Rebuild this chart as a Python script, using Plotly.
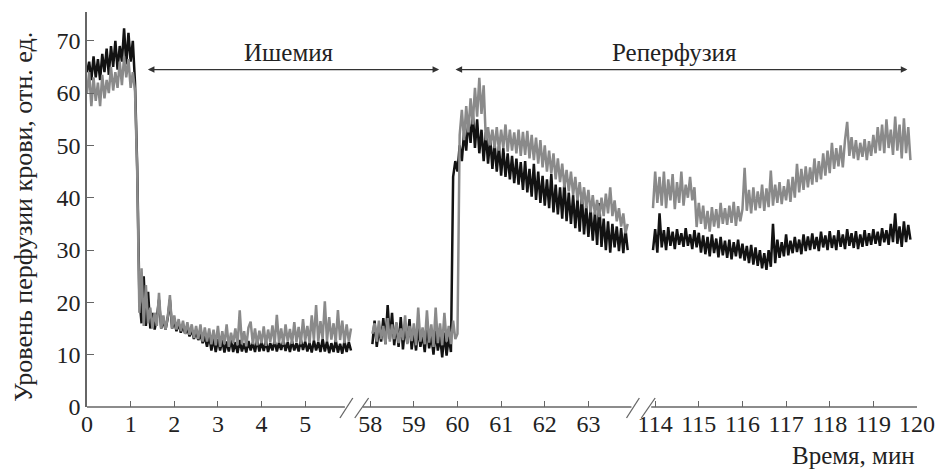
import numpy as np
import plotly.graph_objects as go

# ---------------- data ----------------
STEP = 0.05  # sampling step, min

# segment A: 0 ... 6.05 min
a_start = 0.0
black_a = [64, 66, 62.5, 67, 63, 66.5, 62.5, 67.5, 64, 68.5, 63.5, 69, 65, 70, 64.5, 69, 66, 72.4, 65.5, 71.5,
           66, 70, 62, 46, 21, 16, 25, 15.5, 22, 15, 18, 14.8, 17, 20.5, 15, 16.5, 14.8, 17, 20.5, 15,
           16.5, 14.5, 16, 14.2, 15.5, 14, 15, 13.5, 14.8, 13, 14.5, 12.8, 14, 12.2, 13.5, 11.5, 13.8, 10.8, 13.2, 10.5,
           13, 10.8, 12.8, 10.4, 12.5, 10.6, 13, 10.5, 12.4, 10.3, 12.8, 10.6, 12.2, 10.4, 12.6, 10.8, 12.3, 10.5, 12.9, 10.6,
           12.4, 10.7, 12.6, 10.5, 12.2, 10.8, 12.7, 10.6, 12.3, 10.9, 12.8, 10.7, 12.4, 10.5, 12.6, 10.8, 12.2, 10.6, 12.9, 10.9,
           12.5, 10.6, 12.3, 10.4, 12.7, 10.8, 12.4, 10.5, 13, 10.6, 12.5, 10.3, 12.2, 10.5, 12.8, 10.4, 12.1, 10.2, 12.6, 10.5,
           12.4, 10.8]
gray_a = [60, 64, 57.5, 63, 58.5, 62, 57.5, 63.5, 59, 62.5, 60, 65, 60.5, 64, 61, 66, 61.5, 67, 63, 66.5,
          61, 64, 60.5, 45, 18, 26.5, 15.5, 23.3, 16, 19, 15, 18, 15.5, 21.8, 15, 17.5, 14.8, 17.2, 21.4, 15,
          17.5, 14.8, 16.8, 14.5, 16.5, 14, 16.2, 13.8, 15.8, 13.2, 15.5, 13, 15.8, 12.5, 15.2, 12.5, 15, 12, 14.8, 11.8,
          15.5, 11.5, 14.5, 12, 15.8, 11.5, 14.2, 12.2, 15, 11.8, 18.5, 12, 14.5, 11.6, 15.2, 16.3, 12, 15, 11.8, 14.6,
          12.2, 15.4, 11.7, 14.8, 12.4, 15.6, 12, 17.6, 12.3, 15, 11.9, 15.8, 12.5, 14.9, 12.1, 16.2, 12.4, 15.3, 12, 16.8,
          12.6, 15.5, 12.2, 17.5, 12.8, 19.5, 12.5, 16.4, 13, 20.2, 12.6, 17.2, 12.9, 16, 12.4, 18.5, 12.8, 16.5, 12.2, 15.8,
          12.5, 15]

# segment B: 58.05 ... 63.90 min
b_start = 58.05
black_b = [12, 16.5, 11.5, 15, 12.5, 17, 12, 19.5, 13, 18, 11.8, 16, 11.5, 17.2, 11, 15.5, 12.2, 16.8, 11, 14.5,
           10.8, 15.2, 11.5, 14, 10.5, 15.8, 11.2, 13.8, 10, 14.6, 10.8, 13.5, 9.5, 14.2, 9.8, 13.5, 10.5, 44, 47, 45,
           50, 47, 52.5, 49, 55, 50.5, 56.4, 49.5, 55, 48.5, 53, 47, 52.5, 46.5, 51.5, 45.5, 50.5, 45, 49.8, 44.2,
           49.5, 44, 48.5, 43.5, 48, 42.8, 47.5, 42.5, 46.8, 41.5, 47, 41, 45.5, 40.2, 46.5, 39.6, 45, 39, 44.2, 38.5,
           43.5, 38, 44.5, 37.2, 42.5, 36.8, 42, 36, 43, 35.5, 41, 35, 40.5, 34.2, 39.8, 33.5, 40.5, 33, 38.5, 32.5,
           38, 31.8, 37.2, 31, 39, 30.6, 36, 30, 35.5, 29.5, 35, 30.5, 34.5, 29.8, 34.2, 29.4, 34, 30]
gray_b = [14, 16, 12.5, 16.5, 13, 15.5, 12, 17, 12.5, 15.8, 13, 16.2, 12.2, 15, 12.8, 17.5, 12, 15.5, 12.6, 16,
          11.8, 19, 12.5, 15.2, 12, 18.5, 12.3, 15.8, 11.5, 19, 12.2, 16, 11.8, 18, 12.5, 15.5, 12, 16.5, 13, 14,
          52, 56.8, 51, 57.5, 52.5, 59, 54, 61, 55.5, 62.9, 56, 61.5, 51, 53.5, 50, 53, 49.5, 53.5, 49, 53,
          49.5, 54, 48.8, 53, 49, 52.5, 48.5, 53, 48, 52.6, 48.2, 52.8, 47.5, 52, 47.2, 51.5, 46.5, 51, 45.8, 50,
          45, 49, 44.6, 48.5, 43.5, 47.5, 43, 46.5, 42, 45.3, 41.2, 45, 40.5, 44, 39.5, 43, 38.8, 42, 38, 41.5,
          37.2, 40.5, 36.8, 39.6, 36.3, 40, 36.5, 40.8, 37, 42, 36.5, 39.5, 35.5, 38, 34.5, 37, 33.2, 35]

# segment C: 113.95 ... 119.85 min
c_start = 113.95
black_c = [30, 34, 29.5, 37, 30.5, 33.8, 30, 34.4, 30.8, 33.5, 30.2, 34, 31, 33.2, 30.6, 34.2, 30.8, 33, 30.2, 33.8,
           30.5, 33.3, 29.5, 32.8, 29.2, 32.5, 28.8, 33, 29.4, 32.2, 28.6, 32.5, 29, 31.8, 28.5, 32, 28.2, 31.5, 28.8, 32,
           28.4, 31.2, 28, 30.8, 27.5, 31, 27.2, 30.5, 27, 30, 26.5, 29.4, 26.2, 30, 26.8, 35, 27.5, 32, 28.5, 31.5,
           28.8, 33, 29, 31.8, 29.4, 32.5, 29.6, 32, 29.2, 33, 29.8, 32.6, 30, 33.2, 30.2, 32.5, 29.8, 33.5, 30.5, 32.8,
           30, 33.6, 30.4, 32.8, 30, 33.8, 30.6, 33, 30.2, 34, 30.8, 33.2, 30.4, 33.6, 30.2, 33, 30.6, 33.8, 30.8, 33.2,
           31, 34, 31.2, 33.5, 30.8, 34.2, 31.5, 33.8, 31, 35, 31.5, 37, 31.2, 34.5, 30.6, 35.5, 31.5, 34.8, 32]
gray_c = [38, 45, 39, 44, 38.5, 45, 38, 43.5, 39.5, 44.5, 37.8, 43, 39, 45, 38.5, 42.5, 40, 44, 39.5, 42,
          34.4, 39, 35, 38.5, 34, 37.5, 33.5, 38.2, 34.5, 37.8, 34.2, 39, 35, 38, 34.8, 38.5, 35.2, 39.2, 34.6, 38.4,
          35.5, 37.8, 45.7, 37.5, 41.5, 37, 42, 37.6, 41.2, 38, 42.5, 37.5, 41.8, 38.2, 45.2, 38.5, 42.5, 39, 43, 38.8,
          42.2, 39.5, 43.5, 39.2, 44, 40, 46.5, 41, 45.5, 41.5, 46, 42, 45.8, 42.5, 47.5, 43, 47, 43.5, 48.5, 44.2,
          49, 44.7, 50.5, 45.5, 49.5, 46, 50, 45.8, 51, 54.5, 48, 51.6, 47.5, 51, 47.2, 50.5, 47.8, 51.2, 47.2, 50.8,
          48, 52, 48.5, 53.5, 49, 54, 48.5, 55, 49.5, 53, 48.2, 55.5, 49, 54, 47.5, 55.2, 48.5, 53.5, 47.2]

x_tick_values = [0, 1, 2, 3, 4, 5, 58, 59, 60, 61, 62, 63, 114, 115, 116, 117, 118, 119, 120]
x_tick_labels = [str(v) for v in x_tick_values]
y_tick_values = [0, 10, 20, 30, 40, 50, 60, 70]

# ---------------- broken-axis mapping ----------------
OFF_A, OFF_B, OFF_C = 0.0, 58 - 6.49, 114 - 13.02


def to_u(t):
    t = np.asarray(t, dtype=float)
    return np.where(t < 30, t - OFF_A, np.where(t < 100, t - OFF_B, t - OFF_C))


def times(start, vals):
    return np.round(start + STEP * np.arange(len(vals)), 3)


FONT = "Liberation Serif"
BLACK = "#121212"
GRAY = "#8a8a8a"
AX = "#666666"
TXT = "#222222"
TICK_SIZE = 24
TEXT_SIZE = 25
LW = 2.5

fig = go.Figure()
for start, vals in [(a_start, black_a), (b_start, black_b), (c_start, black_c)]:
    fig.add_trace(go.Scatter(x=to_u(times(start, vals)), y=vals, mode="lines",
                             line=dict(color=BLACK, width=LW), showlegend=False, hoverinfo="skip"))
for start, vals in [(a_start, gray_a), (b_start, gray_b), (c_start, gray_c)]:
    fig.add_trace(go.Scatter(x=to_u(times(start, vals)), y=vals, mode="lines",
                             line=dict(color=GRAY, width=LW), showlegend=False, hoverinfo="skip"))

# plot area geometry (pixels) for decorations
L, R, T, B = 87, 20, 12, 62
W, H = 947, 469
PW, PH = W - L - R, H - T - B


def px(xp):
    return (xp - L) / PW


def py(yp):
    return (H - B - yp) / PH


shapes = []
# x-axis line pieces
for x0, x1 in [(87, 348), (366, 638), (658, 927)]:
    shapes.append(dict(type="line", xref="paper", yref="paper", x0=px(x0), x1=px(x1), y0=0, y1=0,
                       line=dict(color=AX, width=1.5)))
# break marks
for (x0, y0, x1, y1) in [(343, 418, 356, 398), (358, 418, 372, 398), (633, 418, 646, 398), (648, 418, 662, 398)]:
    shapes.append(dict(type="line", xref="paper", yref="paper", x0=px(x0), y0=py(y0), x1=px(x1), y1=py(y1),
                       line=dict(color=AX, width=1.3)))

annotations = []
ARROW_Y = 64.5
for ua, ub in [(1.36, 8.07), (8.41, 18.80)]:
    annotations.append(dict(x=ub, y=ARROW_Y, ax=ua, ay=ARROW_Y, xref="x", yref="y", axref="x", ayref="y",
                            text="", showarrow=True, arrowside="end+start", arrowhead=2, arrowsize=1.1,
                            arrowwidth=1.2, arrowcolor="#333333", standoff=0, startstandoff=0))
annotations.append(dict(x=4.63, y=67.8, xref="x", yref="y", text="Ишемия", showarrow=False,
                        font=dict(family=FONT, size=TEXT_SIZE, color=TXT)))
annotations.append(dict(x=13.46, y=67.8, xref="x", yref="y", text="Реперфузия", showarrow=False,
                        font=dict(family=FONT, size=TEXT_SIZE, color=TXT)))
annotations.append(dict(x=px(22), y=py(217), xref="paper", yref="paper", text="Уровень перфузии крови, отн. ед.",
                        textangle=-90, showarrow=False, xanchor="center", yanchor="middle",
                        font=dict(family=FONT, size=26, color=TXT)))
annotations.append(dict(x=1.0, y=py(455), xref="paper", yref="paper", text="Время, мин", showarrow=False,
                        xanchor="right", yanchor="middle", font=dict(family=FONT, size=TEXT_SIZE, color=TXT)))

fig.update_layout(
    width=W, height=H,
    margin=dict(l=L, r=R, t=T, b=B),
    paper_bgcolor="white", plot_bgcolor="white",
    font=dict(family=FONT, size=TICK_SIZE, color=TXT),
    xaxis=dict(range=[0, 19.02], tickvals=to_u(x_tick_values).tolist(), ticktext=x_tick_labels,
               ticks="inside", ticklen=6, tickwidth=1.3, tickcolor=AX, showline=False,
               showgrid=False, zeroline=False, tickfont=dict(family=FONT, size=TICK_SIZE, color=TXT)),
    yaxis=dict(range=[0, 75.5], tickvals=y_tick_values, ticks="inside", ticklen=7, tickwidth=1.3,
               tickcolor=AX, showline=True, linecolor=AX, linewidth=1.5, showgrid=False, zeroline=False,
               tickfont=dict(family=FONT, size=TICK_SIZE, color=TXT)),
    shapes=shapes, annotations=annotations,
)

fig.write_html("out.html", config={"displayModeBar": False},
               post_script="document.body.style.margin='0';document.body.style.overflow='hidden';")
